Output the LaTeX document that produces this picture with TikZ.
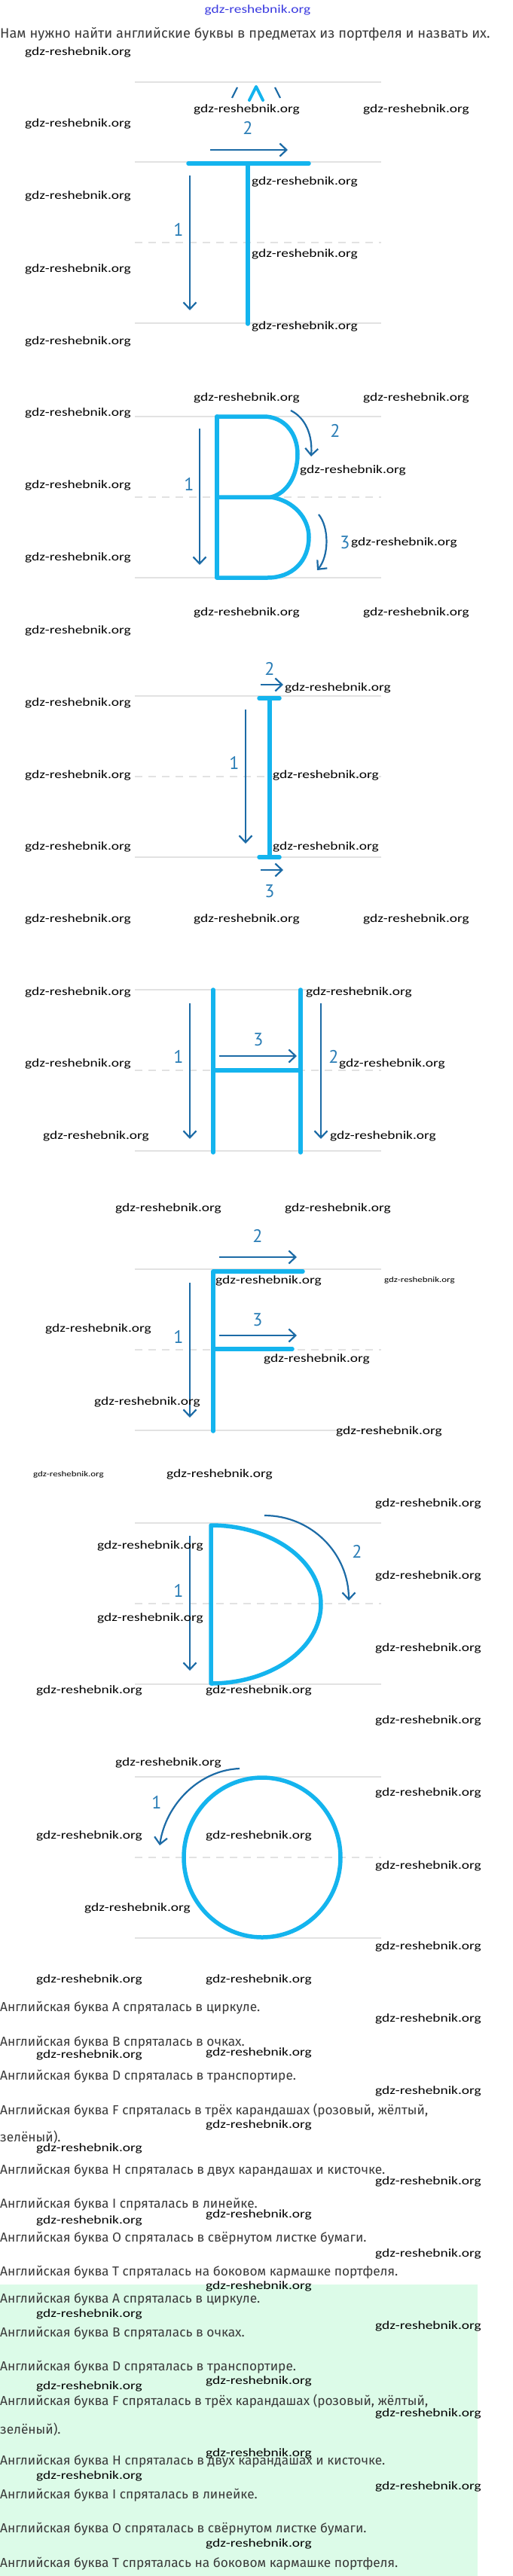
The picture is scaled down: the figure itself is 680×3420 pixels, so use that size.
\documentclass[tikz,border=0pt]{standalone}
\usepackage{fontspec}
\setmainfont{Fira Sans}
\newfontfamily\wmfont{Carlito}
\newfontfamily\digitfont{PT Sans}
\usetikzlibrary{arrows.meta}
\definecolor{lettercyan}{HTML}{14B4EE}
\definecolor{arrowblue}{HTML}{1C6BA6}
\definecolor{digitblue}{HTML}{2A7DB6}
\definecolor{rulegray}{HTML}{E2E2E2}
\definecolor{textgray}{HTML}{3A3A3A}
\definecolor{mint}{HTML}{DCFBE8}
\definecolor{headblue}{HTML}{3A3AE0}
\newcommand{\wmtext}{\scalebox{1.25}[1]{gdz-reshebnik.org}}

\begin{document}
\begin{tikzpicture}[x=1pt, y=-1pt]
	\tikzstyle{ruling}    = [draw=rulegray, line width=2pt]
	\tikzstyle{midruling} = [ruling, dash pattern=on 10pt off 8pt]
	\tikzstyle{letter}    = [draw=lettercyan, line width=5.5pt, line cap=round, line join=round]
	\tikzstyle{hint}      = [draw=arrowblue, line width=2.2pt, -{Straight Barb[length=9pt,width=17pt]}]
	\tikzstyle{stepno}    = [text=digitblue, font=\digitfont\fontsize{24}{24}\selectfont, inner sep=0pt]
	\tikzstyle{wmark}     = [anchor=west, inner sep=0pt, font=\wmfont\fontsize{15.5}{16}\selectfont]
	\tikzstyle{answer}    = [anchor=west, inner sep=0pt, text=textgray, font=\fontsize{17.3}{20}\selectfont]

	\useasboundingbox (0,0) rectangle (680,3420);
	\fill[white] (0,0) rectangle (680,3420);
	\fill[mint] (0,3033) rectangle (634,3420);

%	rulings for every letter
	\draw[ruling] (179,109) -- (506,109);
	\foreach \top in {215,553,924,1314,1685,2022,2359} {
		\draw[ruling] (179,\top) -- (506,\top);
		\draw[midruling] (179,\top+107) -- (506,\top+107);
		\draw[ruling] (179,\top+214) -- (506,\top+214);
	}

%	A (only its top is left)
	\draw[letter, line width=4pt] (331,133) -- (340,115) -- (349,133);
	\draw[arrowblue, line width=2.2pt] (308,130) -- (315,116) (365,116) -- (372,130);

%	T
	\draw[letter] (250,217) -- (410,217) (329,217) -- (329,430);
	\draw[hint] (252,233) -- (252,412);
	\draw[hint] (279,199) -- (382,199);
	\node[stepno] (t1) at (237,305) {1};
	\node[stepno] (t2) at (329,170) {2};

%	B
	\draw[letter] (288,553) -- (288,767);
	\draw[letter] (288,553) -- (350,553) .. controls (377,553) and (395,575) .. (395,603)
		.. controls (395,633) and (380,655) .. (360,660) -- (288,660);
	\draw[letter] (360,660) .. controls (390,665) and (410,688) .. (410,713)
		.. controls (410,745) and (388,767) .. (355,767) -- (288,767);
	\draw[hint] (265,569) -- (265,750);
	\draw[hint] (386,545) .. controls (406,555) and (415,578) .. (413,606);
	\draw[hint] (423,683) .. controls (437,700) and (437,738) .. (421,757);
	\node[stepno] (b1) at (251,643) {1};
	\node[stepno] (b2) at (445,572) {2};
	\node[stepno] (b3) at (458,720) {3};

%	I
	\draw[letter] (358,927) -- (358,1138) (344,927) -- (371,927) (344,1138) -- (371,1138);
	\draw[hint] (326,942) -- (326,1120);
	\draw[hint] (346,909) -- (376,909);
	\draw[hint] (346,1155) -- (376,1155);
	\node[stepno] (i1) at (311,1013) {1};
	\node[stepno] (i2) at (358,888) {2};
	\node[stepno] (i3) at (358,1183) {3};

%	H
	\draw[letter] (283,1314) -- (283,1530) (399,1314) -- (399,1530) (283,1421) -- (399,1421);
	\draw[hint] (252,1332) -- (252,1512);
	\draw[hint] (426,1332) -- (426,1512);
	\draw[hint] (291,1402) -- (394,1402);
	\node[stepno] (h1) at (237,1403) {1};
	\node[stepno] (h2) at (443,1403) {2};
	\node[stepno] (h3) at (343,1380) {3};

%	F
	\draw[letter] (402,1688) -- (283,1688) -- (283,1900) (283,1791) -- (388,1791);
	\draw[hint] (252,1703) -- (252,1882);
	\draw[hint] (291,1669) -- (394,1669);
	\draw[hint] (291,1773) -- (394,1773);
	\node[stepno] (f1) at (237,1775) {1};
	\node[stepno] (f2) at (342,1641) {2};
	\node[stepno] (f3) at (342,1752) {3};

%	D
	\draw[letter] (280,2025) -- (280,2235) arc[start angle=90, end angle=-90, x radius=146, y radius=105] -- cycle;
	\draw[hint] (252,2039) -- (252,2218);
	\draw[hint] (351,2012) .. controls (413,2012) and (463,2062) .. (463,2125);
	\node[stepno] (d1) at (237,2112) {1};
	\node[stepno] (d2) at (474,2060) {2};

%	O
	\draw[letter] (348,2466) ellipse[x radius=104, y radius=106];
	\draw[hint] (318,2348) .. controls (265,2350) and (220,2395) .. (212,2450);
	\node[stepno] (o1) at (208,2393) {1};

%	texts
	\node[answer, font=\fontsize{18.2}{20}\selectfont] (title) at (0,45) {Нам нужно найти английские буквы в предметах из портфеля и назвать их.};
	\foreach \txt/\y [count=\i] in {
		{Английская буква A спряталась в циркуле.}/2666,
		{Английская буква B спряталась в очках.}/2712,
		{Английская буква D спряталась в транспортире.}/2757,
		{Английская буква F спряталась в трёх карандашах (розовый, жёлтый,}/2802,
		{зелёный).}/2837,
		{Английская буква H спряталась в двух карандашах и кисточке.}/2882,
		{Английская буква I спряталась в линейке.}/2927,
		{Английская буква O спряталась в свёрнутом листке бумаги.}/2972,
		{Английская буква T спряталась на боковом кармашке портфеля.}/3017,
		{Английская буква A спряталась в циркуле.}/3053,
		{Английская буква B спряталась в очках.}/3098,
		{Английская буква D спряталась в транспортире.}/3143,
		{Английская буква F спряталась в трёх карандашах (розовый, жёлтый,}/3188,
		{зелёный).}/3225,
		{Английская буква H спряталась в двух карандашах и кисточке.}/3268,
		{Английская буква I спряталась в линейке.}/3313,
		{Английская буква O спряталась в свёрнутом листке бумаги.}/3358,
		{Английская буква T спряталась на боковом кармашке портфеля.}/3404}
		\node[answer] (ans\i) at (0,\y) {\txt};

%	watermarks
	\node[wmark, anchor=center, text=headblue] (head) at (342,13) {\wmtext};
	\foreach \x/\y [count=\i] in {33/69, 257/145, 482/145, 33/164,
		334/241, 33/260, 334/337, 33/357, 334/433, 33/453,
		257/528, 482/528, 33/548, 398/624, 33/644, 466/720, 33/740, 257/813, 482/813,
		33/837, 378/913, 33/933, 362/1029, 33/1029, 362/1124, 33/1124, 33/1220, 257/1220, 482/1220,
		33/1317, 406/1317, 33/1412, 450/1412, 57/1508, 438/1508, 153/1604, 378/1604,
		286/1700, 60/1764, 350/1804, 125/1861, 446/1900, 221/1957, 498/1996,
		129/2052, 498/2092, 129/2148, 498/2188, 48/2244, 273/2244, 498/2284, 153/2340,
		498/2380, 48/2437, 273/2437, 498/2477, 112/2533, 498/2584, 48/2628, 273/2628, 498/2680,
		48/2728, 273/2725, 498/2776, 273/2821, 48/2852, 498/2896, 273/2940, 48/2948, 498/2992, 273/3035,
		48/3072, 498/3088, 48/3168, 273/3161, 498/3204, 273/3257, 48/3287, 498/3301, 273/3377}
		\node[wmark] (wm\i) at (\x,\y) {\wmtext};
	\foreach \x/\y [count=\i] in {510/1700, 44/1958}
		\node[wmark, font=\wmfont\fontsize{10.3}{11}\selectfont] (swm\i) at (\x,\y) {\wmtext};
\end{tikzpicture}
\end{document}
